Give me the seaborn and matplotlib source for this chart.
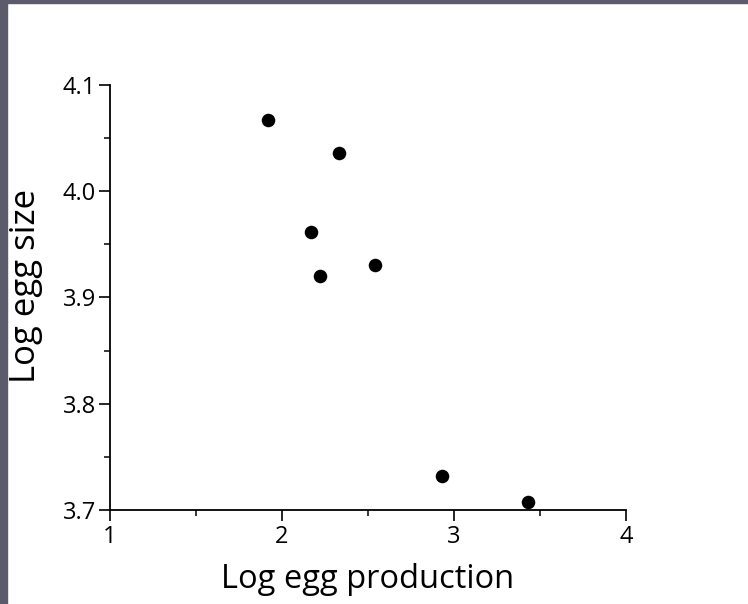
import matplotlib
matplotlib.use("Agg")
import matplotlib.pyplot as plt
import seaborn as sns
import pandas as pd
from matplotlib.ticker import MultipleLocator
from matplotlib.patches import Rectangle

# Data
log_egg_production = [1.92, 2.33, 2.17, 2.22, 2.54, 2.93, 3.43]
log_egg_size = [4.067, 4.036, 3.962, 3.920, 3.931, 3.732, 3.707]
x_ticks = [1, 2, 3, 4]
y_ticks = [3.7, 3.8, 3.9, 4.0, 4.1]
y_tick_labels = ["3.7", "3.8", "3.9", "4.0", "4.1"]

df = pd.DataFrame({"prod": log_egg_production, "size": log_egg_size})

sns.set_theme(style="ticks")
plt.rcParams['font.family'] = ['Open Sans', 'DejaVu Sans']

fig = plt.figure(figsize=(7.48, 6.04), dpi=100)
ax = fig.add_axes([0.147, 0.156, 0.690, 0.703])

sns.scatterplot(data=df, x="prod", y="size", ax=ax, color="black",
                s=95, edgecolor="black", linewidth=0, clip_on=False, zorder=5)

ax.set_xlim(1, 4)
ax.set_ylim(3.7, 4.1)
ax.set_xticks(x_ticks)
ax.set_xticklabels([str(t) for t in x_ticks])
ax.set_yticks(y_ticks)
ax.set_yticklabels(y_tick_labels)
ax.xaxis.set_minor_locator(MultipleLocator(0.5))
ax.yaxis.set_minor_locator(MultipleLocator(0.05))

for side in ["top", "right"]:
    ax.spines[side].set_visible(False)
for side in ["left", "bottom"]:
    ax.spines[side].set_linewidth(1.3)
    ax.spines[side].set_color("black")

ax.tick_params(axis="both", which="major", direction="out", length=8, width=1.2,
               colors="black", labelsize=17, pad=2)
ax.tick_params(axis="x", which="major", pad=3)
ax.tick_params(axis="both", which="minor", direction="out", length=4, width=1.1,
               colors="black")

ax.set_xlabel("Log egg production", fontsize=23.5, color="black", labelpad=10)
ax.set_ylabel("Log egg size", fontsize=25, color="black")
ax.yaxis.set_label_coords(-0.130, 0.527)

# scan border strips
fig.patches.append(Rectangle((0, 1 - 3/604), 1, 3/604, transform=fig.transFigure,
                             color="#5b5b6b", zorder=10))
fig.patches.append(Rectangle((0, 0), 7/748, 1, transform=fig.transFigure,
                             color="#5b5b6b", zorder=10))

fig.savefig("out.png", dpi=100)
